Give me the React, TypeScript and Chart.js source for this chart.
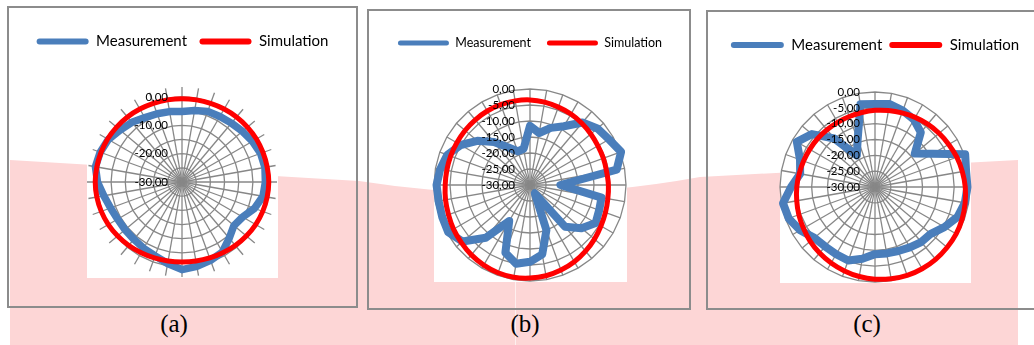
import { useEffect, useRef } from "react";
import { Chart, registerables } from "chart.js";

Chart.register(...registerables);

// ---------- data ----------
const ANGLES = [
  "0", "10", "20", "30", "40", "50", "60", "70", "80", "90", "100", "110",
  "120", "130", "140", "150", "160", "170", "180", "190", "200", "210", "220", "230",
  "240", "250", "260", "270", "280", "290", "300", "310", "320", "330", "340", "350",
];

const SERIES_NAMES = ["Measurement", "Simulation"];
const CAPTIONS = ["(a)", "(b)", "(c)"];

const MEASUREMENT_A = [
  -5.1, -4.4, -3.5, -3.3, -2.9, -2.2, -1.3, -0.5, -0.3, -0.6, -1.0, -2.8,
  -5.3, -6.1, -4.1, -1.5, -0.6, 0.2, 0.9, -0.8, -2.3, -3.0, -3.6, -3.8,
  -3.8, -3.2, -2.0, -0.2, 1.0, 0.7, 0.0, -1.5, -2.5, -3.8, -4.4, -4.8,
];
const SIMULATION_A = [
  -0.6, -0.6, -0.5, -0.3, -0.1, 0.1, 0.3, 0.4, 0.5, 0.6, 0.5, 0.3,
  0.0, -0.4, -0.8, -1.2, -1.5, -1.7, -1.8, -1.7, -1.5, -1.2, -0.8, -0.4,
  0.0, 0.3, 0.5, 0.6, 0.5, 0.4, 0.3, 0.1, -0.1, -0.3, -0.5, -0.6,
];

const MEASUREMENT_B = [
  -11.5, -13.5, -11.0, -8.8, -4.5, -2.5, -1.5, 0.3, -2.5, -20.5, -7.3, -7.0,
  -6.3, -9.0, -13.0, -27.0, -15.0, -8.0, -6.0, -5.0, -7.5, -17.0, -8.5, -2.5,
  -0.5, -0.8, -1.0, -0.8, -1.5, -2.5, -5.0, -8.5, -12.5, -16.5, -18.8, -18.5,
];
const SIMULATION_B = [
  -3.4, -3.7, -4.1, -4.4, -4.8, -5.2, -5.5, -5.6, -5.7, -5.5, -5.3, -4.9,
  -4.4, -3.7, -3.0, -2.3, -1.7, -1.2, -0.9, -0.7, -0.8, -1.1, -1.5, -2.0,
  -2.4, -2.9, -3.2, -3.5, -3.6, -3.6, -3.6, -3.5, -3.4, -3.3, -3.3, -3.3,
];

const MEASUREMENT_C = [
  -3.8, -3.4, -4.3, -5.4, -7.5, -13.6, -9.0, 0.3, -0.8, -0.8, -1.2, -2.3,
  -4.7, -7.0, -7.3, -8.0, -8.5, -8.7, -8.8, -7.0, -5.3, -5.5, -5.5, -5.0,
  -2.7, -1.0, -0.5, -3.5, -6.0, -4.8, -1.5, -4.0, -10.0, -18.5, -14.0, -3.5,
];
const SIMULATION_C = [
  -5.8, -5.5, -5.1, -4.6, -4.1, -3.6, -3.1, -2.5, -2.0, -1.5, -1.1, -0.7,
  -0.4, -0.3, -0.2, -0.2, -0.3, -0.6, -0.9, -1.3, -1.8, -2.3, -2.8, -3.3,
  -3.9, -4.4, -4.9, -5.3, -5.7, -6.0, -6.2, -6.3, -6.4, -6.4, -6.3, -6.1,
];

const SCALE_MIN = -30;
const SCALE_MAX_A = 3.5; // room for the outer tick marks of chart (a)
const SCALE_MAX_BC = 0;
const RING_VALUES = [-30, -25, -20, -15, -10, -5, 0];
const TICK_LABELS_A = [0, -10, -20, -30];
const TICK_LABELS_BC = [0, -5, -10, -15, -20, -25, -30];

// ---------- styles ----------
const BLUE = "#4a7ebb";
const RED = "#ff0000";
const GRID = "#878787";
const PINK = "#fdd6d6";
const FONT = "Lato, 'Open Sans', sans-serif";

const formatTick = (v: number) => v.toFixed(2).replace(".", ",");

const plotBgPlugin = {
  id: "plotBg",
  beforeDraw(chart: any) {
    const s = chart.scales.r;
    if (!s) return;
    const R = s.drawingArea;
    const ctx = chart.ctx;
    ctx.save();
    ctx.fillStyle = "#ffffff";
    ctx.fillRect(s.xCenter - R, s.yCenter - R, 2 * R + 1, 2 * R + 1);
    ctx.restore();
  },
};

const tickLabelPlugin = {
  id: "tickLabels",
  afterDatasetsDraw(chart: any, _args: any, opts: any) {
    const s = chart.scales.r;
    const ctx = chart.ctx;
    ctx.save();
    ctx.font = `${opts.size}px ${FONT}`;
    ctx.fillStyle = "#000000";
    ctx.textAlign = "right";
    ctx.textBaseline = "middle";
    for (const v of opts.values as number[]) {
      const d = s.getDistanceFromCenterForValue(v);
      ctx.fillText(formatTick(v), s.xCenter - opts.offset, s.yCenter - d);
    }
    ctx.restore();
  },
};

const legendHeightPlugin = {
  id: "legendHeight",
  beforeInit(chart: any, _args: any, opts: any) {
    const legend = chart.legend;
    if (!legend) return;
    const orig = legend.fit.bind(legend);
    legend.fit = function () {
      orig();
      this.height = opts.height;
    };
  },
};

type PanelCfg = {
  left: number; top: number; width: number; height: number;
  measurement: number[]; simulation: number[];
  max: number; tickValues: number[]; tickOffset: number;
  legendFont: number; legendBoxWidth: number; legendBoxHeight: number; legendPadding: number;
  padTop: number; padBottom: number; padLeft: number; padRight: number; legendHeight: number;
  blueWidth: number; redWidth: number;
};

const PANELS: PanelCfg[] = [
  {
    left: 8, top: 7, width: 349, height: 300,
    measurement: MEASUREMENT_A, simulation: SIMULATION_A,
    max: SCALE_MAX_A, tickValues: TICK_LABELS_A, tickOffset: 14,
    legendFont: 15, legendBoxWidth: 52, legendBoxHeight: 6, legendPadding: 12.5,
    padTop: 14.5, padBottom: 30, padLeft: 0, padRight: 0, legendHeight: 65.5,
    blueWidth: 7.5, redWidth: 5,
  },
  {
    left: 368, top: 10, width: 322, height: 299,
    measurement: MEASUREMENT_B, simulation: SIMULATION_B,
    max: SCALE_MAX_BC, tickValues: TICK_LABELS_BC, tickOffset: 15,
    legendFont: 12.5, legendBoxWidth: 51, legendBoxHeight: 5, legendPadding: 16,
    padTop: 10.75, padBottom: 28, padLeft: 2, padRight: 0, legendHeight: 68.25,
    blueWidth: 8, redWidth: 5,
  },
  {
    left: 707, top: 11, width: 337, height: 298,
    measurement: MEASUREMENT_C, simulation: SIMULATION_C,
    max: SCALE_MAX_BC, tickValues: TICK_LABELS_BC, tickOffset: 15,
    legendFont: 15, legendBoxWidth: 53, legendBoxHeight: 6, legendPadding: 7,
    padTop: 19.5, padBottom: 27, padLeft: 0, padRight: 1, legendHeight: 61.5,
    blueWidth: 8, redWidth: 5,
  },
];

const BOXES = [
  { left: 7, top: 6, width: 351, height: 302 },
  { left: 367, top: 9, width: 324, height: 301 },
  { left: 706, top: 10, width: 360, height: 300 },
];
const CAPTION_X = [174, 525, 867];

function RadarPanel({ cfg }: { cfg: PanelCfg }) {
  const ref = useRef<HTMLCanvasElement>(null);
  useEffect(() => {
    const canvas = ref.current;
    if (!canvas) return;
    const chart = new Chart(canvas, {
      type: "radar",
      data: {
        labels: ANGLES,
        datasets: [
          {
            label: SERIES_NAMES[0],
            data: cfg.measurement,
            borderColor: BLUE,
            backgroundColor: BLUE,
            borderWidth: cfg.blueWidth,
            fill: false,
            pointRadius: 0,
            pointHoverRadius: 0,
            borderJoinStyle: "round",
            borderCapStyle: "round",
            tension: 0,
            order: 1,
          },
          {
            label: SERIES_NAMES[1],
            data: cfg.simulation,
            borderColor: RED,
            backgroundColor: RED,
            borderWidth: cfg.redWidth,
            fill: false,
            pointRadius: 0,
            pointHoverRadius: 0,
            borderJoinStyle: "round",
            tension: 0.2,
            order: 0,
          },
        ],
      },
      options: {
        responsive: false,
        maintainAspectRatio: false,
        animation: false,
        events: [],
        layout: {
          padding: { top: cfg.padTop, bottom: cfg.padBottom, left: cfg.padLeft, right: cfg.padRight },
        },
        scales: {
          r: {
            min: SCALE_MIN,
            max: cfg.max,
            startAngle: 0,
            angleLines: { display: true, color: GRID, lineWidth: 1.3 },
            grid: { color: GRID, lineWidth: 1.3, circular: false },
            pointLabels: { display: false },
            ticks: { display: false, stepSize: 5 },
            afterBuildTicks: (scale: any) => {
              scale.ticks = RING_VALUES.map((v) => ({ value: v }));
            },
          } as any,
        },
        plugins: {
          tooltip: { enabled: false },
          legend: {
            display: true,
            position: "top",
            labels: {
              font: { family: FONT, size: cfg.legendFont },
              color: "#000000",
              boxWidth: cfg.legendBoxWidth,
              boxHeight: cfg.legendBoxHeight,
              padding: cfg.legendPadding,
              useBorderRadius: true,
              borderRadius: cfg.legendBoxHeight / 2,
              sort: (a: any, b: any) => a.datasetIndex - b.datasetIndex,
              generateLabels: (ch: any) =>
                (Chart.defaults.plugins.legend.labels as any)
                  .generateLabels(ch)
                  .map((item: any) => ({ ...item, lineWidth: 0, fillStyle: item.strokeStyle })),
            },
          },
          tickLabels: { values: cfg.tickValues, offset: cfg.tickOffset, size: 11.5 },
          legendHeight: { height: cfg.legendHeight },
        } as any,
      },
      plugins: [plotBgPlugin, tickLabelPlugin, legendHeightPlugin],
    });
    return () => chart.destroy();
  }, [cfg]);
  return (
    <canvas
      ref={ref}
      width={cfg.width}
      height={cfg.height}
      style={{ position: "absolute", left: cfg.left, top: cfg.top, width: cfg.width, height: cfg.height }}
    />
  );
}

export default function App() {
  return (
    <div
      style={{
        position: "fixed", left: 0, top: 0, width: 1034, height: 345,
        overflow: "hidden", background: "#ffffff",
      }}
    >
      <svg width={1034} height={345} style={{ position: "absolute", left: 0, top: 0 }}>
        <path d="M10,160 L359,181 Q530,208 700,177 L1018,160 L1018,345 L10,345 Z" fill={PINK} />
        <line x1={515.5} y1={281} x2={515.5} y2={345} stroke="rgba(255,255,255,0.6)" strokeWidth={1} />
      </svg>
      {BOXES.map((b, i) => (
        <div
          key={"box" + i}
          style={{
            position: "absolute", left: b.left, top: b.top, width: b.width, height: b.height,
            border: "2px solid #8c8c8c", boxSizing: "border-box",
          }}
        />
      ))}
      {PANELS.map((p, i) => (
        <RadarPanel key={"panel" + i} cfg={p} />
      ))}
      {CAPTIONS.map((c, i) => (
        <div
          key={"cap" + i}
          style={{
            position: "absolute", left: CAPTION_X[i] - 40, top: 310, width: 80,
            textAlign: "center", fontFamily: "'Liberation Serif', 'Times New Roman', serif",
            fontSize: 25, lineHeight: "28px", color: "#000",
          }}
        >
          {c}
        </div>
      ))}
    </div>
  );
}
